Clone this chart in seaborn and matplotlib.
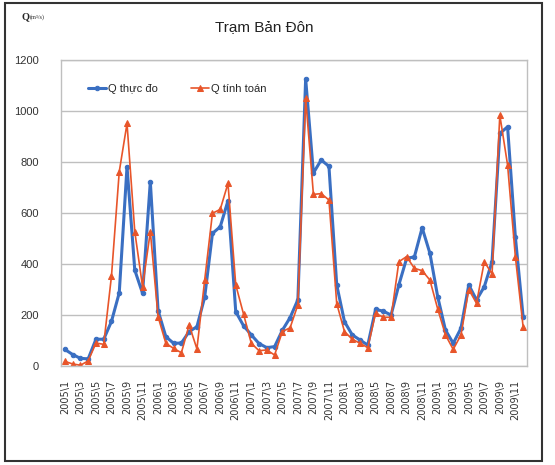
import numpy as np
import pandas as pd
import matplotlib
matplotlib.use('Agg')
import matplotlib.pyplot as plt
import seaborn as sns
from matplotlib.patches import Rectangle

# monthly discharge, Jan 2005 .. Dec 2009 (m3/s)
years = [2005, 2006, 2007, 2008, 2009]
q_thuc_do = [65, 45, 30, 28, 105, 105, 175, 287, 782, 376, 285, 723,
             217, 115, 89, 90, 135, 154, 270, 520, 546, 648, 213, 158,
             122, 88, 72, 76, 140, 190, 260, 1126, 757, 808, 783, 318,
             174, 122, 102, 82, 222, 215, 200, 318, 422, 428, 542, 442,
             272, 141, 89, 148, 318, 259, 311, 409, 912, 938, 507, 193]
q_tinh_toan = [18, 8, 3, 20, 90, 85, 353, 762, 951, 527, 311, 527,
               193, 89, 69, 52, 161, 67, 337, 599, 614, 716, 318, 204,
               89, 60, 63, 43, 135, 150, 240, 1050, 673, 676, 651, 245,
               135, 105, 89, 72, 207, 191, 191, 409, 429, 383, 374, 337,
               224, 122, 65, 122, 300, 246, 409, 361, 984, 788, 429, 154]
month_labels = [f'{y}\\{m}' for y in years for m in range(1, 13)]
y_ticks = [0, 200, 400, 600, 800, 1000, 1200]

BLUE = '#3A6FC2'
ORANGE = '#E8552A'

sns.set_style('white')
plt.rcParams['font.family'] = ['Liberation Sans Narrow', 'Liberation Sans', 'DejaVu Sans']

df = pd.DataFrame({'idx': np.arange(len(month_labels)),
                   'label': month_labels,
                   'Q thực đo': q_thuc_do,
                   'Q tính toán': q_tinh_toan})

fig = plt.figure(figsize=(5.55, 4.65), dpi=100)
ax = fig.add_axes([61 / 555, 1 - 366 / 465, 466 / 555, 306 / 465])

sns.lineplot(data=df, x='idx', y='Q thực đo', ax=ax, color=BLUE, lw=2.2,
             marker='o', markersize=3.2, markeredgecolor=BLUE, label='Q thực đo')
sns.lineplot(data=df, x='idx', y='Q tính toán', ax=ax, color=ORANGE, lw=1.2,
             marker='^', markersize=3.8, markeredgecolor=ORANGE, label='Q tính toán')

ax.set_xlim(-0.5, len(month_labels) - 0.5)
ax.set_ylim(0, 1200)
ax.set_yticks(y_ticks)
ax.set_yticklabels([str(v) for v in y_ticks], fontsize=8)
ax.set_xticks(df['idx'][::2])
ax.set_xticklabels(df['label'][::2], rotation=90, fontsize=7,
                   va='top', ha='center', family=['DejaVu Sans'])
ax.tick_params(axis='y', length=0, pad=16, colors='#333333')
ax.tick_params(axis='x', length=0, pad=10, colors='#333333')
ax.set_xlabel('')
ax.set_ylabel('')
ax.grid(axis='y', color='#BFBFBF', lw=1)
for s in ax.spines.values():
    s.set_color('#BFBFBF')
    s.set_linewidth(1)

ax.legend(loc='center', bbox_to_anchor=(0.25, 0.905), ncol=2, frameon=False,
          fontsize=8, handlelength=1.6, handletextpad=0.2, columnspacing=3.0)

fig.text(264 / 555, 1 - 27 / 465, 'Trạm Bản Đôn', ha='center', va='center',
         fontsize=11, color='#222222')
fig.text(22 / 555, 1 - 17 / 465, 'Q', ha='left', va='center', fontsize=7.5,
         fontweight='bold', family=['Liberation Serif', 'DejaVu Serif'])
fig.text(30 / 555, 1 - 17 / 465, '(m³/s)', ha='left', va='center', fontsize=4.5,
         family=['Liberation Serif', 'DejaVu Serif'])

# outer frame of the picture
fig.patches.append(Rectangle((5 / 555, 4 / 465), 537 / 555, 458 / 465,
                             transform=fig.transFigure, fill=False,
                             edgecolor='#333333', lw=1.5))

fig.savefig('out.png', dpi=100)
